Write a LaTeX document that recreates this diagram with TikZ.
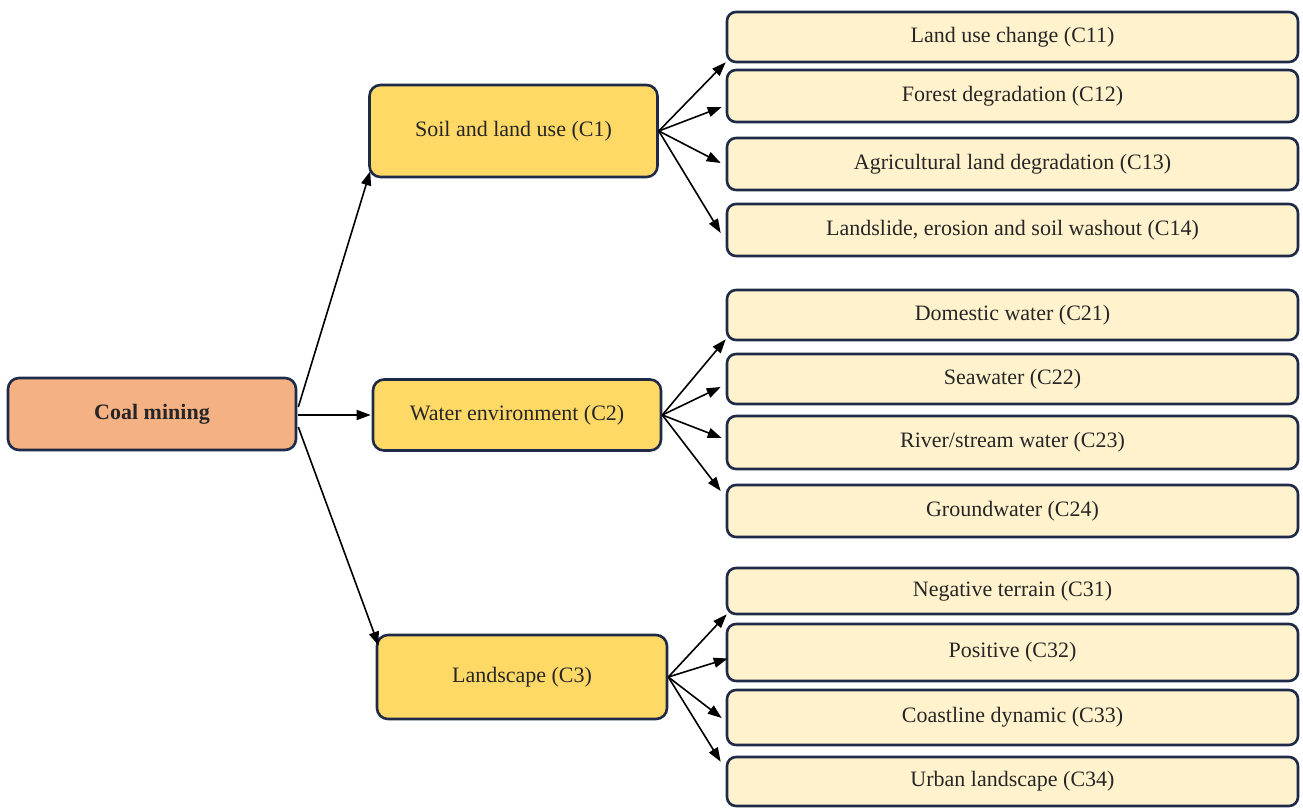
\documentclass[tikz,border=0pt]{standalone}
\usepackage{fontspec}
\setmainfont{Liberation Serif}
\usetikzlibrary{arrows.meta}
\definecolor{bordc}{HTML}{1F2A48}
\definecolor{rootc}{HTML}{F4B183}
\definecolor{midc}{HTML}{FFD966}
\definecolor{leafc}{HTML}{FFF2CC}
\definecolor{txtc}{HTML}{262626}
\tikzset{
  box/.style={draw=bordc, line width=2.6pt, rounded corners=11pt, inner sep=0pt,
    text=txtc, font=\fontsize{22}{25}\selectfont, align=center},
  rootbox/.style={box, fill=rootc, minimum width=288pt, minimum height=72pt, font=\fontsize{22}{25}\selectfont\bfseries},
  midbox/.style={box, fill=midc, minimum width=288pt},
  leafbox/.style={box, fill=leafc, minimum width=571pt, rounded corners=9pt},
  arr/.style={draw=black, line width=1.6pt, -{Triangle[length=14pt,width=10pt]}}
}
\begin{document}
\begin{tikzpicture}[x=1pt,y=-1pt]
\useasboundingbox (0,0) rectangle (1303,809);
\node[rootbox] (coal) at (152,414) {Coal mining};
\node[midbox, minimum height=92pt] (c1) at (513.5,131) {Soil and land use (C1)};
\node[midbox, minimum height=71pt] (c2) at (517,415) {Water environment (C2)};
\node[midbox, minimum height=84pt, minimum width=290pt] (c3) at (522,677) {Landscape (C3)};

\node[leafbox, minimum height=50pt] (c11) at (1012.5,37) {Land use change (C11)};
\node[leafbox, minimum height=52pt] (c12) at (1012.5,96) {Forest degradation (C12)};
\node[leafbox, minimum height=52pt] (c13) at (1012.5,164) {Agricultural land degradation (C13)};
\node[leafbox, minimum height=52pt] (c14) at (1012.5,230) {Landslide, erosion and soil washout (C14)};

\node[leafbox, minimum height=50pt] (c21) at (1012.5,315) {Domestic water (C21)};
\node[leafbox, minimum height=50pt] (c22) at (1012.5,379) {Seawater (C22)};
\node[leafbox, minimum height=53pt] (c23) at (1012.5,442.5) {River/stream water (C23)};
\node[leafbox, minimum height=52pt] (c24) at (1012.5,511) {Groundwater (C24)};

\node[leafbox, minimum height=46pt] (c31) at (1012.5,591) {Negative terrain (C31)};
\node[leafbox, minimum height=57pt] (c32) at (1012.5,652.5) {Positive (C32)};
\node[leafbox, minimum height=55pt] (c33) at (1012.5,717.5) {Coastline dynamic (C33)};
\node[leafbox, minimum height=49pt] (c34) at (1012.5,781.5) {Urban landscape (C34)};

\draw[arr] ([shift={(1,-7)}]coal.east) -- ([shift={(2,-7)}]c1.south west);
\draw[arr] ([shift={(1,1)}]coal.east) -- ([shift={(-1,0)}]c2.west);
\draw[arr] ([shift={(1,13)}]coal.east) -- ([shift={(3,12)}]c3.north west);

\draw[arr] (c1.east) -- ([shift={(0,-1)}]c11.south west);
\draw[arr] (c1.east) -- ([shift={(-4,11)}]c12.west);
\draw[arr] (c1.east) -- ([shift={(-5,-1)}]c13.west);
\draw[arr] (c1.east) -- ([shift={(-5,3)}]c14.west);

\draw[arr] (c2.east) -- ([shift={(0,-2)}]c21.south west);
\draw[arr] (c2.east) -- ([shift={(-5,8)}]c22.west);
\draw[arr] (c2.east) -- ([shift={(-4,-4.5)}]c23.west);
\draw[arr] (c2.east) -- ([shift={(-5,-20)}]c24.west);

\draw[arr] (c3.east) -- ([shift={(1,-1)}]c31.south west);
\draw[arr] (c3.east) -- ([shift={(2,6)}]c32.west);
\draw[arr] (c3.east) -- ([shift={(-4,0.5)}]c33.west);
\draw[arr] (c3.east) -- ([shift={(-5,6)}]c34.north west);
\end{tikzpicture}
\end{document}
